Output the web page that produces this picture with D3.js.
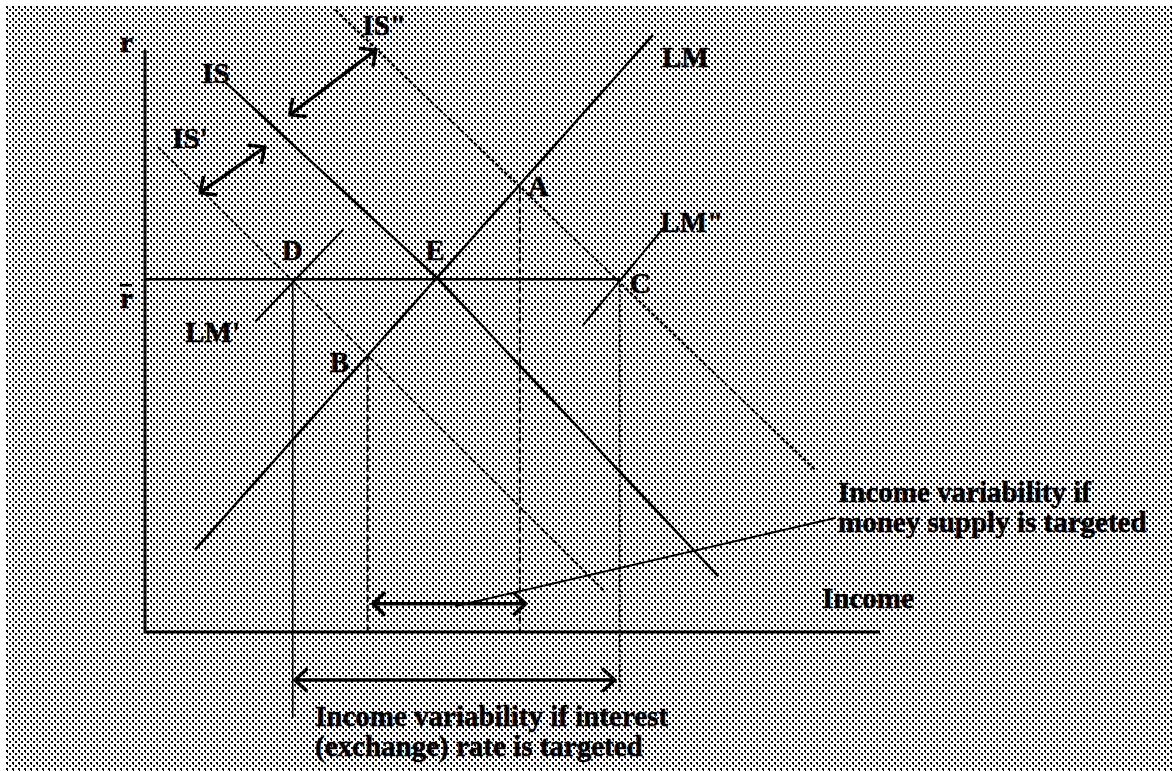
<!DOCTYPE html>
<html lang="en">
<head>
    <meta charset="UTF-8">
    <title>IS-LM targeting</title>
    <style>
        body { margin: 0; background: white; }
        text { font-family: "Liberation Serif", "Times New Roman", serif; font-weight: bold; font-size: 29px; fill: #000; stroke: #000; stroke-width: 0.5px; }
    </style>
</head>
<body>
    <svg id="container" width="1172" height="771">
        <defs>
            <pattern id="dots" width="6" height="6" patternUnits="userSpaceOnUse">
                <rect width="6" height="6" fill="#fff"></rect>
                <g fill="#000" shape-rendering="crispEdges">
                    <rect x="0" y="0" width="2" height="2"></rect>
                    <rect x="3" y="3" width="2" height="2"></rect>
                    <rect x="1" y="2" width="1" height="1"></rect>
                </g>
            </pattern>
        </defs>
        <rect x="5" y="5" width="1167" height="766" fill="url(#dots)"></rect>
        <g id="body"></g>
    </svg>

<script src="https://cdn.jsdelivr.net/npm/d3@7"></script>
<script>
    // curves in (income, r) units
    let lm = [[6.8, 13.7], [69.1, 99.5]]
    let lmPrime = [[15.0, 51.7], [26.9, 67.0]]
    let lmDouble = [[59.5, 51.0], [71.2, 68.3]]
    let is = [[10.9, 91.7], [39.9, 58.8], [78.0, 9.3]]
    let isPrime = [[1.8, 80.8], [62.6, 6.7]]
    let isDouble = [[25.9, 103.7], [91.2, 27.0]]

    let rBar = 58.8

    // labelled intersections
    let pointNames = ["D", "E", "C", "B", "A"]
    let pointIncome = [20.1, 39.9, 64.6, 30.3, 51.0]
    let pointRate = [58.8, 58.8, 58.8, 46.2, 74.2]
    // how far each drop line goes down
    let dropTo = [-14.3, null, -10.0, 0, 0]

    // income ranges
    let moneyRange = [31.0, 51.8]
    let moneyLevel = 4.7
    let rateRange = [20.4, 63.9]
    let rateLevel = -8.0

    // shift arrows for IS curves
    let shiftIS2 = [[19.7, 86.2], [31.4, 97.0]]
    let shiftIS1 = [[7.5, 73.2], [16.3, 80.8]]

    let leader = [[42.2, 4.3], [93.9, 19.0]]

    let curveNames = ["IS", "IS'", "IS\"", "LM", "LM'", "LM\""]
    let noteMoney = ["Income variability if", "money supply is targeted"]
    let noteRate = ["Income variability if interest", "(exchange) rate is targeted"]

    let body = d3.select("#body")

    let x = d3.scaleLinear().domain([0, 100]).range([145, 880])
    let y = d3.scaleLinear().domain([0, 100]).range([632, 32])

    let line = d3.line().x(d => x(d[0])).y(d => y(d[1]))

    function curve(pts, width, dash) {
        body.append("path")
            .attr("d", line(pts))
            .attr("fill", "none")
            .attr("stroke", "#000")
            .attr("stroke-width", width)
            .attr("stroke-dasharray", dash || null)
    }

    // chevron head at p pointing away from q
    function head(p, q) {
        let px = x(p[0]), py = y(p[1]), qx = x(q[0]), qy = y(q[1])
        let a = Math.atan2(py - qy, px - qx)
        let len = 17, spread = 0.75
        let path = d3.path()
        path.moveTo(px - len * Math.cos(a - spread), py - len * Math.sin(a - spread))
        path.lineTo(px, py)
        path.lineTo(px - len * Math.cos(a + spread), py - len * Math.sin(a + spread))
        body.append("path")
            .attr("d", path.toString())
            .attr("fill", "none")
            .attr("stroke", "#000")
            .attr("stroke-width", 3.5)
            .attr("stroke-linejoin", "miter")
    }

    function doubleArrow(a, b) {
        curve([a, b], 3.5)
        head(a, b)
        head(b, a)
    }

    // axes
    curve([[0, 97], [0, 0], [100, 0]], 3)

    // r-bar line
    curve([[0, rBar], [pointIncome[2], rBar]], 2.5)

    // drop lines
    let dropStyle = [null, null, "3,2", "7,3", "7,3"]
    pointNames.forEach((n, i) => {
        if (dropTo[i] === null) return
        curve([[pointIncome[i], pointRate[i]], [pointIncome[i], dropTo[i]]], i == 0 ? 1.6 : 2, dropStyle[i])
    })

    // IS / LM curves
    curve(isPrime, 2, "4,2")
    curve(isDouble, 2, "4,2")
    curve(is, 2.5)
    curve(lm, 2.5)
    curve(lmPrime, 2)
    curve(lmDouble, 2)

    // arrows
    doubleArrow([moneyRange[0], moneyLevel], [moneyRange[1], moneyLevel])
    doubleArrow([rateRange[0], rateLevel], [rateRange[1], rateLevel])
    doubleArrow(shiftIS2[0], shiftIS2[1])
    doubleArrow(shiftIS1[0], shiftIS1[1])
    curve(leader, 2)

    // labels
    function label(t, lx, ly) {
        body.append("text").attr("x", lx).attr("y", ly).text(t)
    }

    let pointOffset = [[-11, -19], [-13, -19], [10, 14], [-38, 17], [8, 9]]
    pointNames.forEach((n, i) => {
        label(n, x(pointIncome[i]) + pointOffset[i][0], y(pointRate[i]) + pointOffset[i][1])
    })

    label("r", 120, 52)
    label("r", 120, y(rBar) + 29)
    // bar over the r of r-bar
    body.append("line")
        .attr("x1", 120).attr("x2", 132)
        .attr("y1", y(rBar) + 6).attr("y2", y(rBar) + 6)
        .attr("stroke", "#000").attr("stroke-width", 2.5)

    label(curveNames[0], x(is[0][0]) - 23, y(is[0][1]) + 1)
    label(curveNames[1], x(isPrime[0][0]) + 14, y(isPrime[0][1]) + 1)
    label(curveNames[2], x(isDouble[0][0]) + 27, y(isDouble[0][1]) + 25)
    label(curveNames[3], x(lm[1][0]) + 9, y(lm[1][1]) + 32)
    label(curveNames[4], x(lmPrime[0][0]) - 70, y(lmPrime[0][1]) + 20)
    label(curveNames[5], x(lmDouble[1][0]) - 8, y(lmDouble[1][1]) + 10)

    label("Income", 822, 608)
    noteMoney.forEach((t, i) => label(t, 838, 502 + i * 30))
    noteRate.forEach((t, i) => label(t, 315, 726 + i * 30))
</script>
</body>
</html>
